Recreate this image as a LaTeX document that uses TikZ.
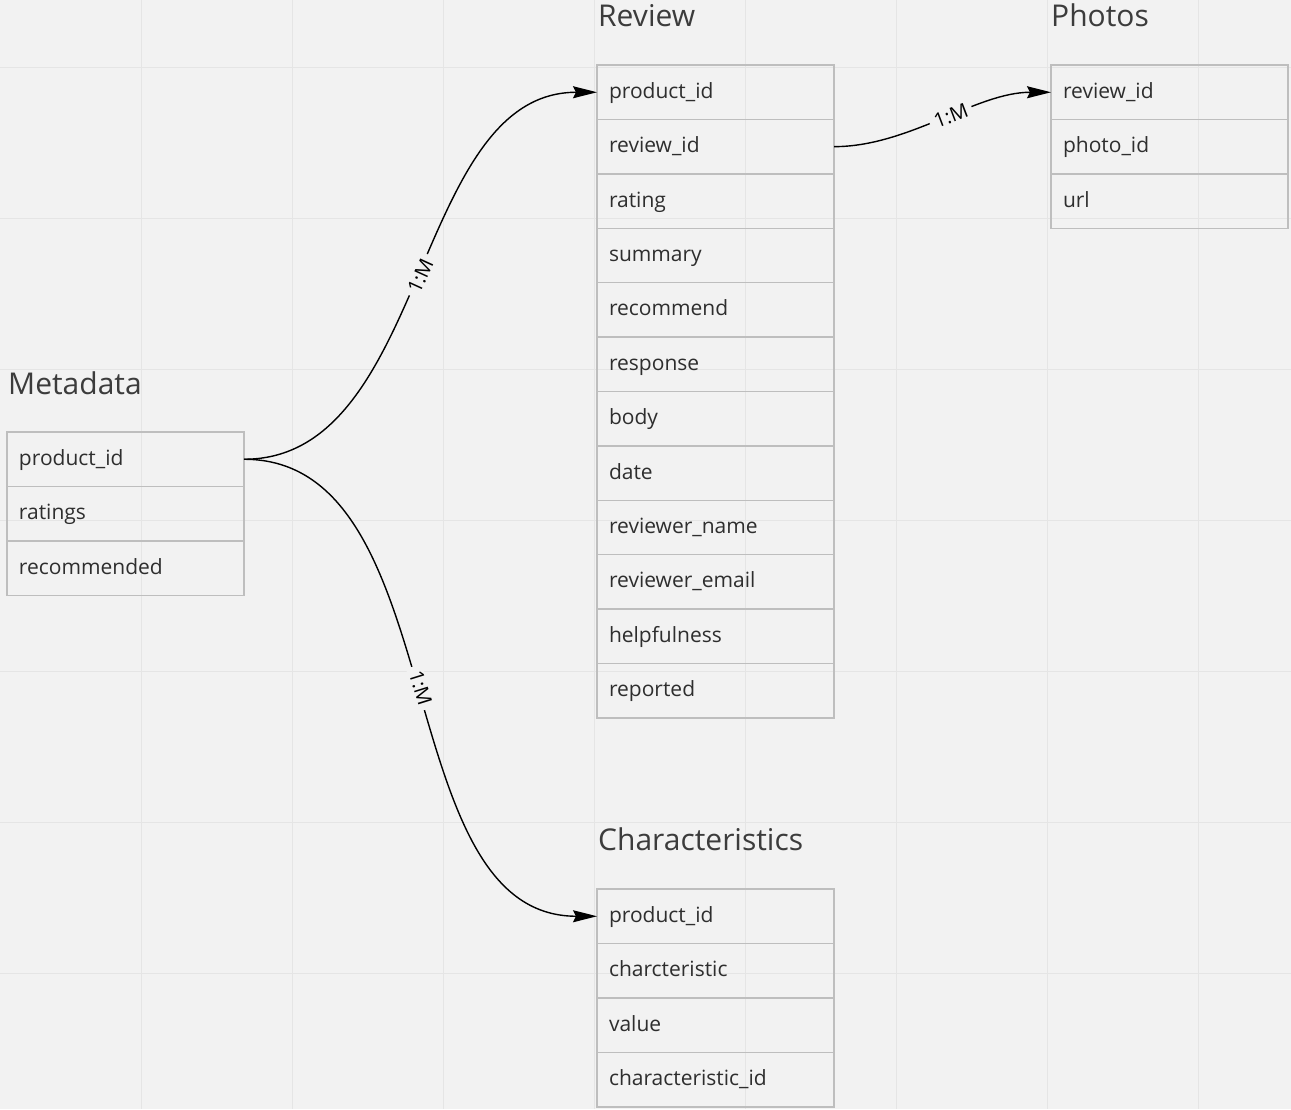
\documentclass[tikz,border=0pt]{standalone}
\usepackage{fontspec}
\setmainfont{Open Sans}
\usepackage{tikz}
\usetikzlibrary{arrows.meta}

\definecolor{canvas}{HTML}{F2F2F2}
\definecolor{gridgray}{HTML}{E5E5E5}
\definecolor{cellgray}{HTML}{BEBEBE}
\definecolor{textgray}{HTML}{2E2E2E}
\definecolor{titlegray}{HTML}{3C3C3C}

\tikzset{
  field/.style={draw=cellgray, line width=1.4pt, rectangle, anchor=north west, outer sep=0pt,
    minimum width=237pt, minimum height=54.5pt, text width=213pt, inner xsep=12pt, inner ysep=0pt,
    align=left, text height=16pt, text depth=4pt, text=textgray, font=\fontsize{21}{25}\selectfont},
  tabletitle/.style={anchor=base west, inner sep=0pt, text=titlegray, font=\fontsize{30}{35}\selectfont},
  gridline/.style={gridgray, line width=1pt},
  relation/.style={line width=1.4pt, -{Stealth[length=24pt,width=12pt,inset=3pt]}},
  cardlabel/.style={sloped, fill=canvas, inner xsep=5pt, inner ysep=1pt, text=black,
    font=\fontsize{20}{22}\selectfont}
}

\begin{document}
\begin{tikzpicture}[x=1pt,y=-1pt]
    % draw background
    \fill[canvas] (0,0) rectangle (1291,1109);
    \useasboundingbox (0,0) rectangle (1291,1109);

    % draw grid lines
    \foreach \x in {141,292,...,1198}
      \draw[gridline] (\x,0) -- (\x,1109);
    \foreach \y in {67,218,...,973}
      \draw[gridline] (0,\y) -- (1291,\y);

    % draw table titles
    \node[tabletitle] (metatitle) at (8,394) {Metadata};
    \node[tabletitle] (revtitle) at (598,26.7) {Review};
    \node[tabletitle] (phototitle) at (1051,26.7) {Photos};
    \node[tabletitle] (chartitle) at (598,850.7) {Characteristics};

    % draw table rows
    \foreach \f [count=\i] in {product\_id,ratings,recommended}
      \node[field] (meta\i) at (7,{432+(\i-1)*54.5}) {\f};
    \foreach \f [count=\i] in {product\_id,review\_id,rating,summary,recommend,response,
        body,date,reviewer\_name,reviewer\_email,helpfulness,reported}
      \node[field] (rev\i) at (597,{65+(\i-1)*54.4}) {\f};
    \foreach \f [count=\i] in {review\_id,photo\_id,url}
      \node[field] (photo\i) at (1051,{65+(\i-1)*54.4}) {\f};
    \foreach \f [count=\i] in {product\_id,charcteristic,value,characteristic\_id}
      \node[field] (char\i) at (597,{889+(\i-1)*54.5}) {\f};

    % draw relations
    \draw[relation] (meta1.east) .. controls +(185,0) and +(-185,0) .. (rev1.west)
      node[midway, cardlabel] {1:M};
    \draw[relation] (meta1.east) .. controls +(210,0) and +(-210,0) .. (char1.west)
      node[midway, cardlabel] {1:M};
    \draw[relation] (rev2.east) .. controls +(75,0) and +(-75,0) .. (photo1.west)
      node[pos=0.54, cardlabel] {1:M};
  \end{tikzpicture}
\end{document}
